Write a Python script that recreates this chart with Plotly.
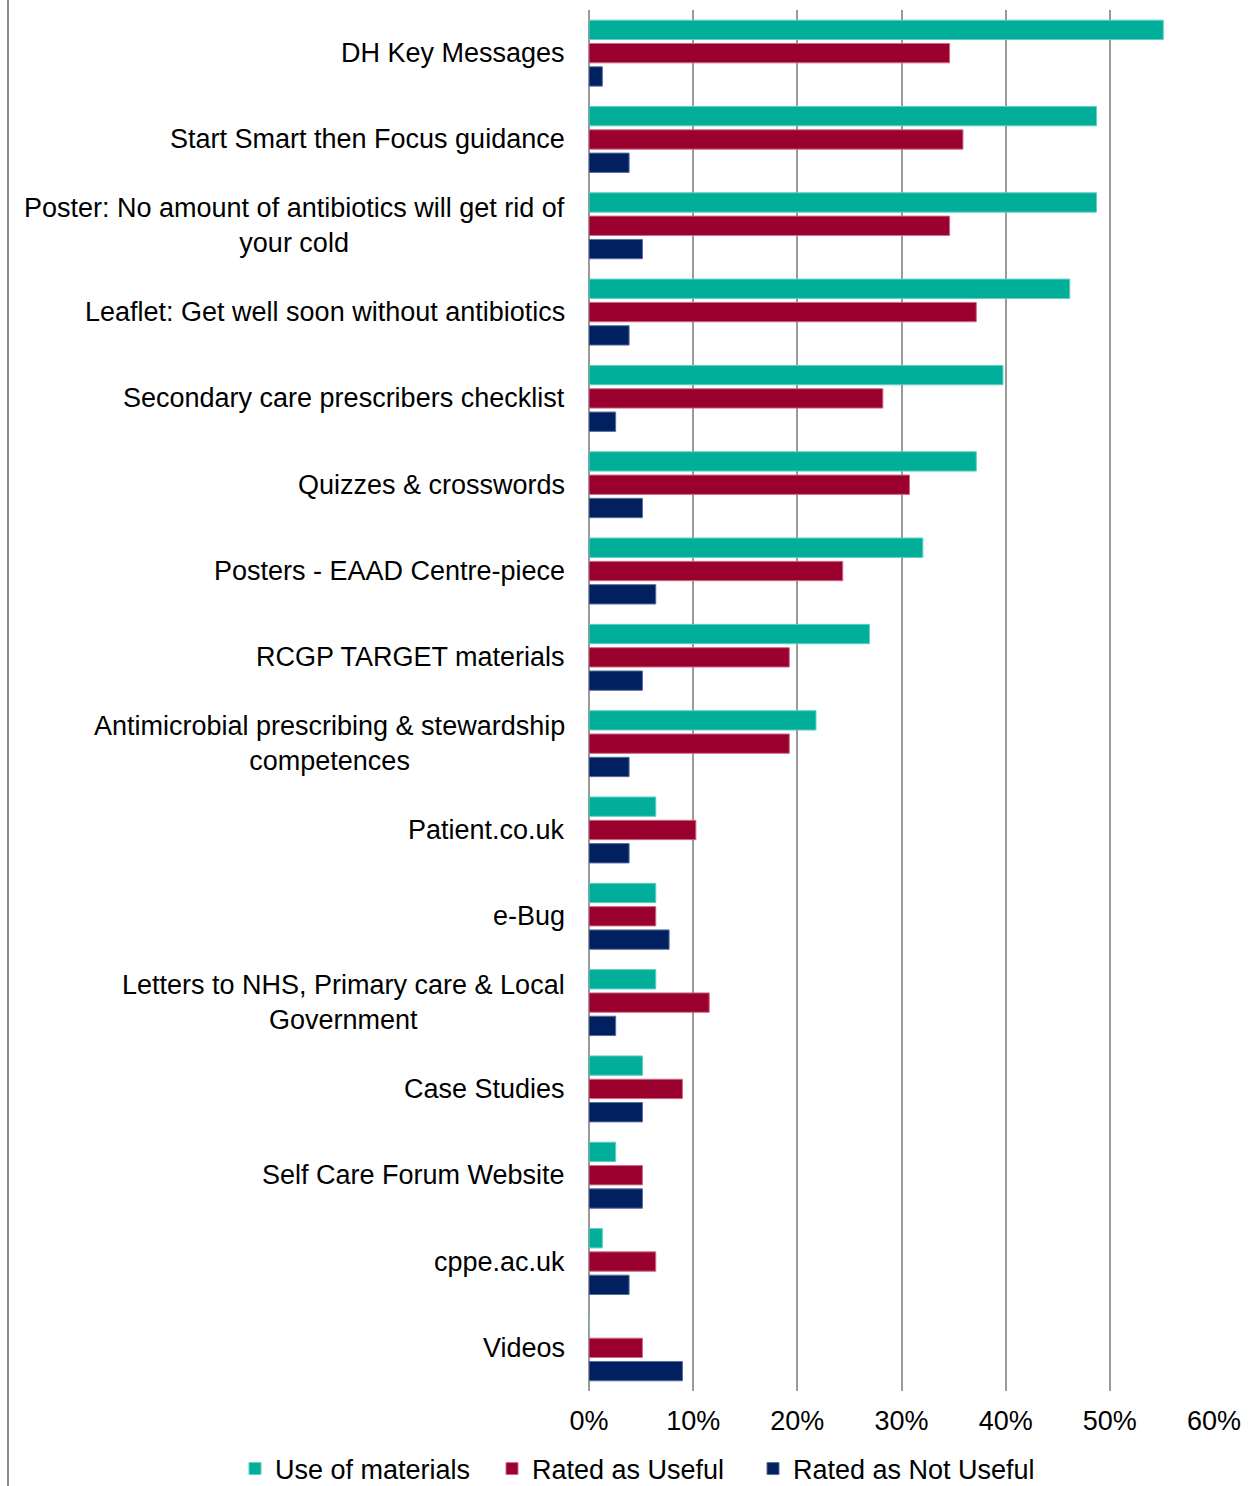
import plotly.graph_objects as go

categories = [
    "DH Key Messages",
    "Start Smart then Focus guidance",
    "Poster: No amount of antibiotics will get rid of<br>your cold",
    "Leaflet: Get well soon without antibiotics",
    "Secondary care prescribers checklist",
    "Quizzes & crosswords",
    "Posters - EAAD Centre-piece",
    "RCGP TARGET materials",
    "Antimicrobial prescribing & stewardship<br>competences",
    "Patient.co.uk",
    "e-Bug",
    "Letters to NHS, Primary care & Local<br>Government",
    "Case Studies",
    "Self Care Forum Website",
    "cppe.ac.uk",
    "Videos",
]

use_of_materials = [55.13, 48.72, 48.72, 46.15, 39.74, 37.18, 32.05, 26.92,
                    21.79, 6.41, 6.41, 6.41, 5.13, 2.56, 1.28, 0.0]
rated_useful = [34.62, 35.90, 34.62, 37.18, 28.21, 30.77, 24.36, 19.23,
                19.23, 10.26, 6.41, 11.54, 8.97, 5.13, 6.41, 5.13]
rated_not_useful = [1.28, 3.85, 5.13, 3.85, 2.56, 5.13, 6.41, 5.13,
                    3.85, 3.85, 7.69, 2.56, 5.13, 5.13, 3.85, 8.97]

series_names = ["Use of materials", "Rated as Useful", "Rated as Not Useful"]
series_colors = ["#00ae9a", "#99002e", "#002060"]
edge_colors = ["#5fd0c2", "#d06a88", "#5a6c9c"]
legend_ids = ["legend", "legend", "legend2"]
x_ticks = [0, 10, 20, 30, 40, 50, 60]

FONT = "Liberation Sans, Arial, sans-serif"
FSIZE = 27

fig = go.Figure()
for name, vals, col, edge, lg in zip(series_names,
                                     [use_of_materials, rated_useful, rated_not_useful],
                                     series_colors, edge_colors, legend_ids):
    fig.add_trace(go.Bar(
        y=categories, x=vals, name=name, orientation="h",
        marker=dict(color=col, line=dict(color=edge, width=1)),
        hoverinfo="x+y", legend=lg,
    ))

# Category labels: right-aligned block, lines centred within the block
for cat in categories:
    fig.add_annotation(
        x=0, xref="paper", y=cat, yref="y",
        xanchor="right", yanchor="middle", xshift=-22,
        text=cat, align="center", showarrow=False,
        font=dict(family=FONT, size=FSIZE, color="#000000"),
    )

# Outer frame edge on the left
fig.add_shape(type="line", xref="paper", yref="paper",
              x0=-0.9296, x1=-0.9296, y0=-0.07, y1=1.01,
              line=dict(color="#8c8c8c", width=2))

legend_common = dict(orientation="h", yanchor="middle", y=-0.0565,
                     font=dict(family=FONT, size=FSIZE, color="#000000"),
                     itemwidth=30, traceorder="normal", tracegroupgap=0,
                     bgcolor="rgba(0,0,0,0)")

fig.update_layout(
    width=1250, height=1486,
    margin=dict(l=589, r=36, t=10, b=95, autoexpand=False),
    paper_bgcolor="white", plot_bgcolor="white",
    barmode="group", bargap=0.19, bargroupgap=0.17,
    font=dict(family=FONT, size=FSIZE, color="#000000"),
    showlegend=True,
    legend=dict(x=-0.5664, xanchor="left",
                entrywidth=212, entrywidthmode="pixels", **legend_common),
    legend2=dict(x=0.2624, xanchor="left", **legend_common),
    xaxis=dict(range=[0, 60], tickvals=x_ticks,
               ticktext=[f"{v}%" for v in x_ticks],
               showgrid=True, gridcolor="#9a9a9a", gridwidth=2,
               zeroline=True, zerolinecolor="#9a9a9a", zerolinewidth=2,
               showline=False, ticks="", ticklabelstandoff=11,
               tickfont=dict(family=FONT, size=FSIZE, color="#000000")),
    yaxis=dict(autorange="reversed", showticklabels=False,
               showgrid=False, zeroline=False, showline=False, ticks=""),
)

fig.write_html("out.html")
